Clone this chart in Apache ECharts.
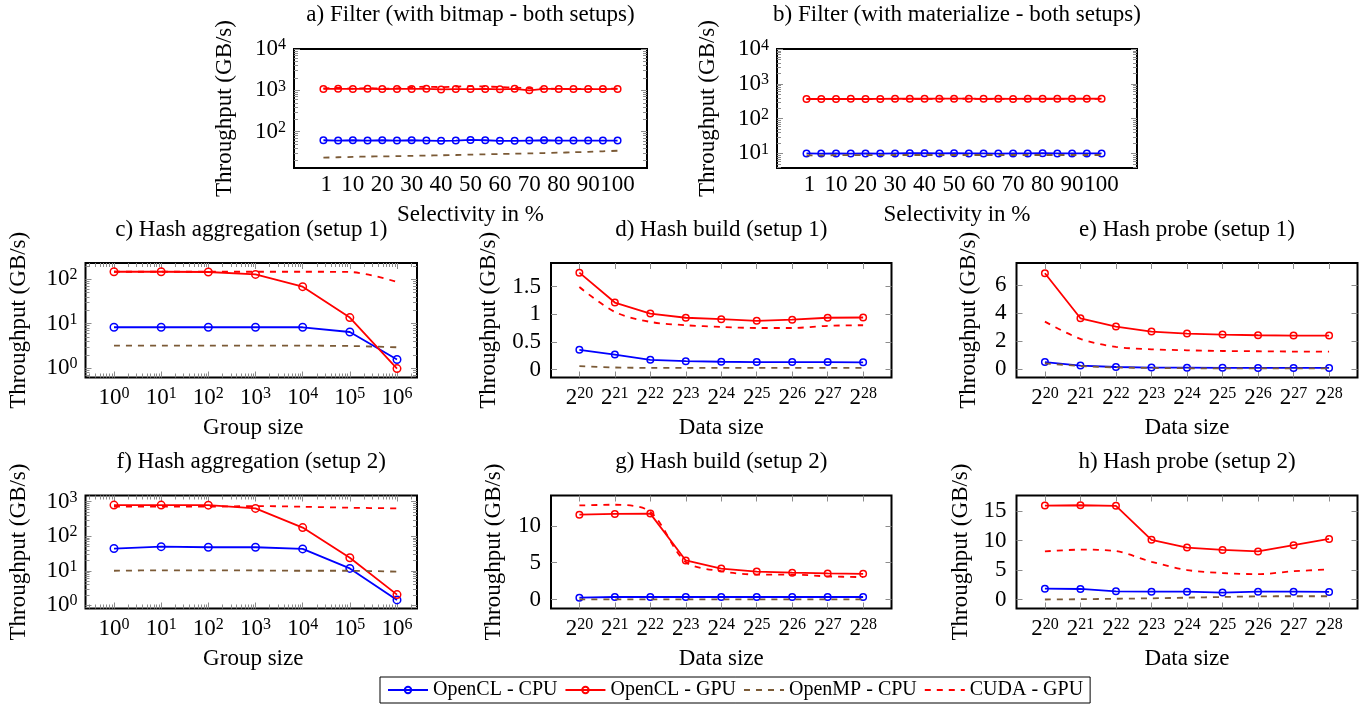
<!DOCTYPE html>
<html>
<head>
<meta charset="utf-8">
<script src="https://cdn.jsdelivr.net/npm/echarts@6/dist/echarts.min.js"></script>
<style>
html, body { margin: 0; padding: 0; background: #fff; }
#chart { width: 1369px; height: 713px; }
</style>
</head>
<body>
<div id="chart"></div>
<script>
var FONT = '"Liberation Serif", "Times New Roman", serif';
var TICK_COLOR = '#8c8c8c';
var BLUE = '#0000ff', RED = '#ff0000', BROWN = '#7b5a36';

var seriesNames = ['OpenCL - CPU', 'OpenCL - GPU', 'OpenMP - CPU', 'CUDA - GPU'];

// x values
var selectivity = [0, 5, 10, 15, 20, 25, 30, 35, 40, 45, 50, 55, 60, 65, 70, 75, 80, 85, 90, 95, 100];
var selectivityTicks = [1, 10, 20, 30, 40, 50, 60, 70, 80, 90, 100];
var groupSizes = [1, 10, 100, 1000, 10000, 100000, 1000000];
var dataSizeExp = [20, 21, 22, 23, 24, 25, 26, 27, 28];

// a) Filter (bitmap)
var aOclCpu = [62, 61, 62, 61, 62, 61, 62, 61, 60, 61, 63, 62, 60, 60, 61, 62, 61, 61, 61, 61, 61];
var aOclGpu = [1080, 1090, 1080, 1090, 1070, 1080, 1080, 1090, 1050, 1070, 1070, 1080, 1060, 1090, 1000, 1080, 1080, 1070, 1070, 1070, 1080];
var aOmpCpu = [23.5, 24, 24.5, 25, 25.2, 25.5, 26, 26.3, 26.8, 27.2, 27.8, 28.3, 28.8, 29.3, 29.8, 30.4, 31, 31.7, 32.5, 33.5, 34.5];
var aCudaGpu = [1120, 1150, 1100, 1130, 1100, 1120, 1200, 1220, 1200, 1230, 1260, 1240, 1200, 1170, 1130, 1100, 1090, 1090, 1080, 1090, 1100];

// b) Filter (materialize)
var bOclCpu = [10.0, 9.9, 10.0, 9.9, 10.0, 9.9, 10.0, 10.1, 10.1, 10.0, 10.1, 10.0, 10.0, 9.9, 10.0, 10.0, 10.1, 10.0, 10.0, 10.0, 10.0];
var bOclGpu = [370, 372, 370, 374, 370, 372, 376, 378, 376, 378, 378, 378, 374, 376, 372, 376, 376, 376, 376, 376, 378];
var bOmpCpu = [8.8, 8.8, 8.9, 8.9, 8.9, 8.9, 9.0, 9.0, 9.0, 9.0, 9.0, 9.0, 9.0, 9.0, 9.0, 9.0, 9.0, 9.0, 9.0, 9.0, 9.0];
var bCudaGpu = [368, 370, 368, 370, 368, 370, 372, 374, 374, 376, 376, 376, 374, 372, 370, 372, 372, 372, 372, 372, 374];

// c) Hash aggregation (setup 1)
var cOclCpu = [8.3, 8.3, 8.3, 8.3, 8.3, 6.5, 1.57];
var cOclGpu = [147, 147, 145, 128, 68, 13.7, 0.98];
var cOmpCpu = [3.2, 3.2, 3.2, 3.2, 3.2, 3.15, 2.95];
var cCudaGpu = [147, 147, 147, 147, 147, 145, 87];

// d) Hash build (setup 1)
var dOclCpu = [0.355, 0.27, 0.175, 0.15, 0.14, 0.133, 0.133, 0.133, 0.13];
var dOclGpu = [1.75, 1.21, 1.01, 0.935, 0.91, 0.88, 0.9, 0.935, 0.94];
var dOmpCpu = [0.06, 0.036, 0.03, 0.03, 0.03, 0.03, 0.03, 0.03, 0.03];
var dCudaGpu = [1.49, 1.04, 0.86, 0.8, 0.77, 0.75, 0.75, 0.79, 0.8];

// e) Hash probe (setup 1)
var eOclCpu = [0.52, 0.27, 0.17, 0.13, 0.12, 0.11, 0.1, 0.1, 0.1];
var eOclGpu = [6.85, 3.64, 3.05, 2.69, 2.55, 2.48, 2.43, 2.41, 2.41];
var eOmpCpu = [0.43, 0.24, 0.14, 0.1, 0.08, 0.07, 0.07, 0.07, 0.07];
var eCudaGpu = [3.4, 2.17, 1.6, 1.43, 1.36, 1.31, 1.29, 1.27, 1.26];

// f) Hash aggregation (setup 2)
var fOclCpu = [44, 50, 48, 48, 43, 11.7, 1.43];
var fOclGpu = [800, 800, 795, 640, 178, 23.8, 2.04];
var fOmpCpu = [10, 10.3, 10.3, 10.2, 10, 10, 9.4];
var fCudaGpu = [720, 720, 720, 750, 716, 670, 641];

// g) Hash build (setup 2)
var gOclCpu = [0.27, 0.36, 0.36, 0.36, 0.36, 0.36, 0.36, 0.36, 0.36];
var gOclGpu = [11.5, 11.6, 11.65, 5.3, 4.2, 3.8, 3.65, 3.55, 3.5];
var gOmpCpu = [0.04, 0.04, 0.04, 0.04, 0.04, 0.04, 0.04, 0.04, 0.04];
var gCudaGpu = [12.75, 12.85, 11.9, 5.1, 3.85, 3.4, 3.4, 3.15, 3.05];

// h) Hash probe (setup 2)
var hOclCpu = [1.85, 1.8, 1.4, 1.35, 1.35, 1.2, 1.35, 1.35, 1.3];
var hOclGpu = [15.9, 15.95, 15.85, 10.1, 8.8, 8.4, 8.15, 9.2, 10.25];
var hOmpCpu = [0.02, 0.07, 0.15, 0.22, 0.33, 0.45, 0.55, 0.57, 0.57];
var hCudaGpu = [8.15, 8.45, 8.2, 6.4, 5.0, 4.5, 4.3, 4.8, 5.1];

// layout of the eight panels
var panels = [
    { title: 'a) Filter (with bitmap - both setups)', xName: 'Selectivity in %', box: [294, 49, 353, 119],
      xs: selectivity, xKind: 'sel', xMin: -10, xMax: 110, yKind: 'log', yMin: 13.2, yMax: 10000,
      data: [aOclCpu, aOclGpu, aOmpCpu, aCudaGpu], mark: 6.5, yNameX: 225 },
    { title: 'b) Filter (with materialize - both setups)', xName: 'Selectivity in %', box: [777, 49, 360, 119],
      xs: selectivity, xKind: 'sel', xMin: -10, xMax: 112, yKind: 'log', yMin: 3.8, yMax: 10200,
      data: [bOclCpu, bOclGpu, bOmpCpu, bCudaGpu], mark: 6.5, yNameX: 708 },
    { title: 'c) Hash aggregation (setup 1)', xName: 'Group size', box: [85.5, 263, 331.5, 114.5],
      xs: groupSizes, xKind: 'log', xMin: Math.pow(10, -0.604), xMax: Math.pow(10, 6.424), yKind: 'log', yMin: 0.617, yMax: 231,
      data: [cOclCpu, cOclGpu, cOmpCpu, cCudaGpu], mark: 7.5, yNameX: 19 },
    { title: 'd) Hash build (setup 1)', xName: 'Data size', box: [551, 263, 340.5, 114.5],
      xs: dataSizeExp, xKind: 'exp2', xMin: 19.2, xMax: 28.8, yKind: 'lin', yMin: -0.145, yMax: 1.925, yTicks: [0, 0.5, 1, 1.5],
      data: [dOclCpu, dOclGpu, dOmpCpu, dCudaGpu], mark: 6.5, yNameX: 489 },
    { title: 'e) Hash probe (setup 1)', xName: 'Data size', box: [1016.5, 263, 341, 114.5],
      xs: dataSizeExp, xKind: 'exp2', xMin: 19.2, xMax: 28.8, yKind: 'lin', yMin: -0.58, yMax: 7.58, yTicks: [0, 2, 4, 6],
      data: [eOclCpu, eOclGpu, eOmpCpu, eCudaGpu], mark: 6.5, yNameX: 969 },
    { title: 'f) Hash aggregation (setup 2)', xName: 'Group size', box: [85.5, 495.5, 331.5, 113],
      xs: groupSizes, xKind: 'log', xMin: Math.pow(10, -0.604), xMax: Math.pow(10, 6.424), yKind: 'log', yMin: 0.807, yMax: 1514,
      data: [fOclCpu, fOclGpu, fOmpCpu, fCudaGpu], mark: 7.5, yNameX: 19 },
    { title: 'g) Hash build (setup 2)', xName: 'Data size', box: [551, 495.5, 340.5, 113],
      xs: dataSizeExp, xKind: 'exp2', xMin: 19.2, xMax: 28.8, yKind: 'lin', yMin: -1.2, yMax: 14.1, yTicks: [0, 5, 10],
      data: [gOclCpu, gOclGpu, gOmpCpu, gCudaGpu], mark: 6.5, yNameX: 494 },
    { title: 'h) Hash probe (setup 2)', xName: 'Data size', box: [1016.5, 495.5, 341, 113],
      xs: dataSizeExp, xKind: 'exp2', xMin: 19.2, xMax: 28.8, yKind: 'lin', yMin: -1.5, yMax: 17.6, yTicks: [0, 5, 10, 15],
      data: [hOclCpu, hOclGpu, hOmpCpu, hCudaGpu], mark: 6.5, yNameX: 961 }
];

var rich = {
    b: { fontFamily: FONT, fontSize: 23, lineHeight: 24, color: '#000' },
    s: { fontFamily: FONT, fontSize: 16, lineHeight: 12, verticalAlign: 'top', color: '#000' }
};

function pow10Label(v) {
    var e = Math.log10(v), r = Math.round(e);
    if (Math.abs(e - r) > 1e-6) return '';
    return '{b|10}{s|' + r + '}';
}
function pow2Label(v) {
    return '{b|2}{s|' + v + '}';
}

function bareAxis(gi, pos, type, min, max) {
    return {
        gridIndex: gi, position: pos, type: type, min: min, max: max,
        axisLine: { show: false, onZero: false },
        axisTick: { show: false },
        axisLabel: { show: false },
        splitLine: { show: false },
        axisPointer: { show: false },
        silent: true
    };
}
function tickAxis(gi, pos, min, max, values, len) {
    var ax = bareAxis(gi, pos, 'value', min, max);
    ax.axisTick = { show: true, inside: true, length: len, customValues: values,
                    lineStyle: { color: TICK_COLOR, width: 1 } };
    return ax;
}
// major and minor tick positions of a log axis, in log10 units
function logTicks(lo, hi) {
    var major = [], minor = [];
    for (var k = Math.floor(lo); k <= Math.ceil(hi); k++) {
        if (k >= lo && k <= hi) major.push(k);
        for (var m = 2; m <= 9; m++) {
            var v = k + Math.log10(m);
            if (v > lo && v < hi) minor.push(v);
        }
    }
    return { major: major, minor: minor };
}

var grids = [], xAxes = [], yAxes = [], series = [], graphics = [];

panels.forEach(function (p, gi) {
    var b = p.box;
    grids.push({ left: b[0], top: b[1], width: b[2], height: b[3], show: true,
                 borderColor: '#000', borderWidth: 2, backgroundColor: 'transparent' });

    // x axes
    var xi = xAxes.length;
    if (p.xKind === 'sel') {
        var ax = bareAxis(gi, 'bottom', 'value', p.xMin, p.xMax);
        ax.axisLabel = { show: true, customValues: selectivityTicks, margin: 5, color: '#000',
                         fontFamily: FONT, fontSize: 23, lineHeight: 24,
                         formatter: function (v) { return String(v); } };
        xAxes.push(ax);
    } else if (p.xKind === 'exp2') {
        var ax2 = bareAxis(gi, 'bottom', 'value', p.xMin, p.xMax);
        ax2.axisLabel = { show: true, customValues: dataSizeExp, margin: 8, formatter: pow2Label, rich: rich };
        ax2.axisTick = { show: true, inside: true, length: 6, customValues: dataSizeExp,
                         lineStyle: { color: TICK_COLOR, width: 1 } };
        xAxes.push(ax2);
        xAxes.push(tickAxis(gi, 'top', p.xMin, p.xMax, dataSizeExp, 6));
    } else {
        var ax3 = bareAxis(gi, 'bottom', 'log', p.xMin, p.xMax);
        ax3.logBase = 10;
        ax3.axisLabel = { show: true, margin: 8, formatter: pow10Label, rich: rich };
        xAxes.push(ax3);
        var lx0 = Math.log10(p.xMin), lx1 = Math.log10(p.xMax), tx = logTicks(lx0, lx1);
        ['bottom', 'top'].forEach(function (pos) {
            xAxes.push(tickAxis(gi, pos, lx0, lx1, tx.major, 6));
            xAxes.push(tickAxis(gi, pos, lx0, lx1, tx.minor, 4));
        });
    }

    // y axes
    var yi = yAxes.length;
    if (p.yKind === 'log') {
        var ay = bareAxis(gi, 'left', 'log', p.yMin, p.yMax);
        ay.logBase = 10;
        ay.axisLabel = { show: true, margin: 8, formatter: pow10Label, rich: rich };
        yAxes.push(ay);
        var ly0 = Math.log10(p.yMin), ly1 = Math.log10(p.yMax), ty = logTicks(ly0, ly1);
        ['left', 'right'].forEach(function (pos) {
            yAxes.push(tickAxis(gi, pos, ly0, ly1, ty.major, 6));
            yAxes.push(tickAxis(gi, pos, ly0, ly1, ty.minor, 4));
        });
    } else {
        var ay2 = bareAxis(gi, 'left', 'value', p.yMin, p.yMax);
        ay2.axisLabel = { show: true, customValues: p.yTicks, margin: 10, color: '#000',
                          fontFamily: FONT, fontSize: 23,
                          formatter: function (v) { return String(v); } };
        ay2.axisTick = { show: true, inside: true, length: 6, customValues: p.yTicks,
                         lineStyle: { color: TICK_COLOR, width: 1 } };
        yAxes.push(ay2);
        yAxes.push(tickAxis(gi, 'right', p.yMin, p.yMax, p.yTicks, 6));
    }

    // series
    var styles = [
        { color: BLUE, dash: 'solid', symbol: true },
        { color: RED, dash: 'solid', symbol: true },
        { color: BROWN, dash: [6, 6], symbol: false },
        { color: RED, dash: [6, 6], symbol: false }
    ];
    styles.forEach(function (st, k) {
        series.push({
            type: 'line',
            name: seriesNames[k],
            xAxisIndex: xi,
            yAxisIndex: yi,
            data: p.xs.map(function (x, j) { return [x, p.data[k][j]]; }),
            symbol: st.symbol ? 'circle' : 'none',
            symbolSize: p.mark,
            showSymbol: st.symbol,
            smooth: st.symbol ? false : 0.3,
            lineStyle: { color: st.color, width: 1.8, type: st.dash },
            itemStyle: { color: 'rgba(255,255,255,0)', borderColor: st.color, borderWidth: 1.5 },
            emphasis: { disabled: true },
            z: 3 + k
        });
    });

    // title, axis names
    var cx = b[0] + b[2] / 2;
    var titleY = gi < 2 ? 15 : (gi < 5 ? 230 : 462);
    var nameY = gi < 2 ? 215 : (gi < 5 ? 428 : 659);
    var textStyle = { fontFamily: FONT, fontSize: 23, fill: '#000', align: 'center', verticalAlign: 'middle' };
    graphics.push({ type: 'text', x: cx, y: titleY, silent: true,
                    style: Object.assign({ text: p.title }, textStyle) });
    graphics.push({ type: 'text', x: cx + (p.xKind === 'log' ? 2 : 0), y: nameY, silent: true,
                    style: Object.assign({ text: p.xName }, textStyle) });
    graphics.push({ type: 'text', x: p.yNameX, y: b[1] + b[3] / 2, rotation: Math.PI / 2, silent: true,
                    style: Object.assign({ text: 'Throughput (GB/s)' }, textStyle) });
});

var chart = echarts.init(document.getElementById('chart'), null, { renderer: 'canvas' });
chart.setOption({
    animation: false,
    backgroundColor: '#fff',
    grid: grids,
    xAxis: xAxes,
    yAxis: yAxes,
    series: series,
    graphic: graphics,
    legend: {
        left: 380, top: 677,
        padding: [3, 7],
        itemGap: 7, itemWidth: 40, itemHeight: 8,
        borderColor: '#000', borderWidth: 1,
        selectedMode: false,
        textStyle: { fontFamily: FONT, fontSize: 20, color: '#000' },
        data: [
            { name: seriesNames[0] },
            { name: seriesNames[1] },
            { name: seriesNames[2], itemStyle: { opacity: 0 } },
            { name: seriesNames[3], itemStyle: { opacity: 0 } }
        ]
    }
});
</script>
</body>
</html>
